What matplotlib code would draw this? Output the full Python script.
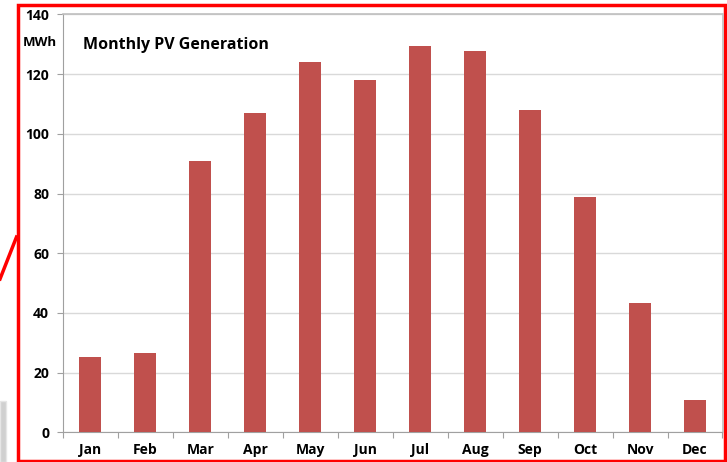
import matplotlib
matplotlib.use("Agg")
import matplotlib.pyplot as plt
from matplotlib.patches import Rectangle
from matplotlib.lines import Line2D

months = ["Jan", "Feb", "Mar", "Apr", "May", "Jun", "Jul", "Aug", "Sep", "Oct", "Nov", "Dec"]
generation_mwh = [25.2, 26.6, 90.9, 107.0, 124.0, 118.0, 129.4, 127.7, 108.0, 78.8, 43.3, 10.8]
y_ticks = [0, 20, 40, 60, 80, 100, 120, 140]

W, H = 727, 462
fig = plt.figure(figsize=(W / 100, H / 100), dpi=100)
fig.patch.set_facecolor("white")

font = "Open Sans"
ax = fig.add_axes([63 / W, (H - 432.3) / H, (722.5 - 63) / W, (432.3 - 14.4) / H])
x = list(range(len(months)))
ax.bar(x, generation_mwh, width=0.4, color="#C0504D", zorder=3)
ax.set_xlim(-0.5, len(months) - 0.5)
ax.set_ylim(0, 140)
ax.set_yticks(y_ticks)
ax.set_yticklabels([str(v) for v in y_ticks], fontfamily=font, fontweight="bold", fontsize=10)
ax.set_xticks(x)
ax.set_xticklabels(months, fontfamily=font, fontweight="bold", fontsize=10)
ax.set_xticks([i - 0.5 for i in range(len(months) + 1)], minor=True)
ax.tick_params(axis="x", which="major", length=0, pad=8)
ax.tick_params(axis="x", which="minor", length=4, color="#a0a0a0", width=0.8)
ax.tick_params(axis="y", length=4, color="#a0a0a0", width=0.8, pad=6)
ax.grid(axis="y", color="#d9d9d9", linewidth=1.0, zorder=0)
for s in ["left", "bottom"]:
    ax.spines[s].set_color("#a0a0a0")
    ax.spines[s].set_linewidth(0.8)
for s in ["top", "right"]:
    ax.spines[s].set_color("#bfbfbf")
    ax.spines[s].set_linewidth(1.2)

fig.text(40 / W, 1 - 42 / H, "MWh", ha="center", va="center", fontfamily=font,
         fontweight="bold", fontsize=9.5)
fig.text(83 / W, 1 - 45 / H, "Monthly PV Generation", ha="left", va="center",
         fontfamily=font, fontweight="bold", fontsize=11.5)

# annotation decorations around the chart
fig.add_artist(Rectangle((0, 0), 6 / W, (H - 401) / H, transform=fig.transFigure,
                         facecolor="#d0d0d0", edgecolor="#e6e6e6", linewidth=1))
fig.add_artist(Line2D([0, 16.5 / W], [1 - 279 / H, 1 - 237 / H], transform=fig.transFigure,
                      color="#ff0000", linewidth=2.5))
fig.add_artist(Rectangle((18 / W, 1.2 / H), (724.5 - 18) / W, (H - 1.2 - 4.5) / H,
                         transform=fig.transFigure, fill=False, edgecolor="#ff0000",
                         linewidth=2.5, zorder=0))

fig.savefig("out.png", dpi=100, facecolor="white")
